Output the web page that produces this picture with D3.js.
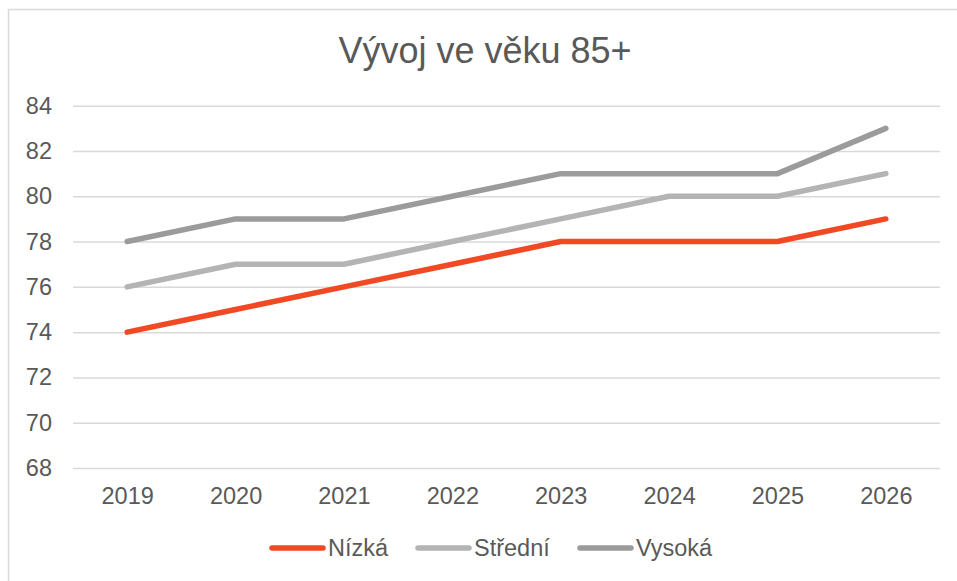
<!DOCTYPE html>
<html><head><meta charset="utf-8">
<script src="https://cdn.jsdelivr.net/npm/d3@7"></script>
<style>body{margin:0;background:#fff}svg{display:block;font-family:"Liberation Sans",Arial,sans-serif}</style>
</head><body>
<svg id="c" width="957" height="581"></svg>
<script>
const title = "Vývoj ve věku 85+";
const categories = ["2019","2020","2021","2022","2023","2024","2025","2026"];
const nizka   = [74,75,76,77,78,78,78,79];
const stredni = [76,77,77,78,79,80,80,81];
const vysoka  = [78,79,79,80,81,81,81,83];
const yTicks  = [68,70,72,74,76,78,80,82,84];
const seriesNames = ["Nízká","Střední","Vysoká"];
const seriesColors = ["#f04923","#b4b4b4","#9b9b9b"];
const series = [nizka, stredni, vysoka];

const svg = d3.select("#c");
svg.append("rect").attr("x",8.5).attr("y",9.5).attr("width",960).attr("height",600)
  .attr("fill","#fff").attr("stroke","#d9d9d9").attr("stroke-width",1.5);

const x = d3.scalePoint().domain(categories).range([73,940]).padding(0.5);
const y = d3.scaleLinear().domain([68,84]).range([468,105.7]);

svg.append("text").attr("x",485).attr("y",63).attr("text-anchor","middle")
  .attr("font-size",36).attr("fill","#595959").text(title);

// gridlines
const yAxis = d3.axisLeft(y).tickValues(yTicks).tickSize(-(940-73)).tickPadding(21);
const gy = svg.append("g").attr("transform","translate(73,0)").call(yAxis);
gy.select(".domain").remove();
gy.selectAll(".tick line").attr("stroke","#d9d9d9").attr("stroke-width",1.5);
gy.selectAll(".tick text").attr("fill","#595959").attr("font-size",23.5).attr("font-family","Liberation Sans, Arial, sans-serif");

const xAxis = d3.axisBottom(x).tickSize(0).tickPadding(19);
const gx = svg.append("g").attr("transform","translate(0,468)").call(xAxis);
gx.select(".domain").remove();
gx.selectAll(".tick text").attr("fill","#595959").attr("font-size",23.5).attr("font-family","Liberation Sans, Arial, sans-serif");

const line = d3.line().x((d,i)=>x(categories[i])).y(d=>y(d));
series.forEach((s,k)=>{
  svg.append("path").datum(s).attr("d",line).attr("fill","none")
    .attr("stroke",seriesColors[k]).attr("stroke-width",5.5)
    .attr("stroke-linecap","round").attr("stroke-linejoin","round");
});

// legend
const legX = [270,416,578];
const lg = svg.append("g");
seriesNames.forEach((n,k)=>{
  lg.append("line").attr("x1",legX[k]+2).attr("x2",legX[k]+53).attr("y1",548).attr("y2",548)
    .attr("stroke",seriesColors[k]).attr("stroke-width",5.5).attr("stroke-linecap","round");
  lg.append("text").attr("x",legX[k]+58).attr("y",555.5).attr("font-size",23.5)
    .attr("fill","#595959").text(n);
});
</script>
</body></html>
